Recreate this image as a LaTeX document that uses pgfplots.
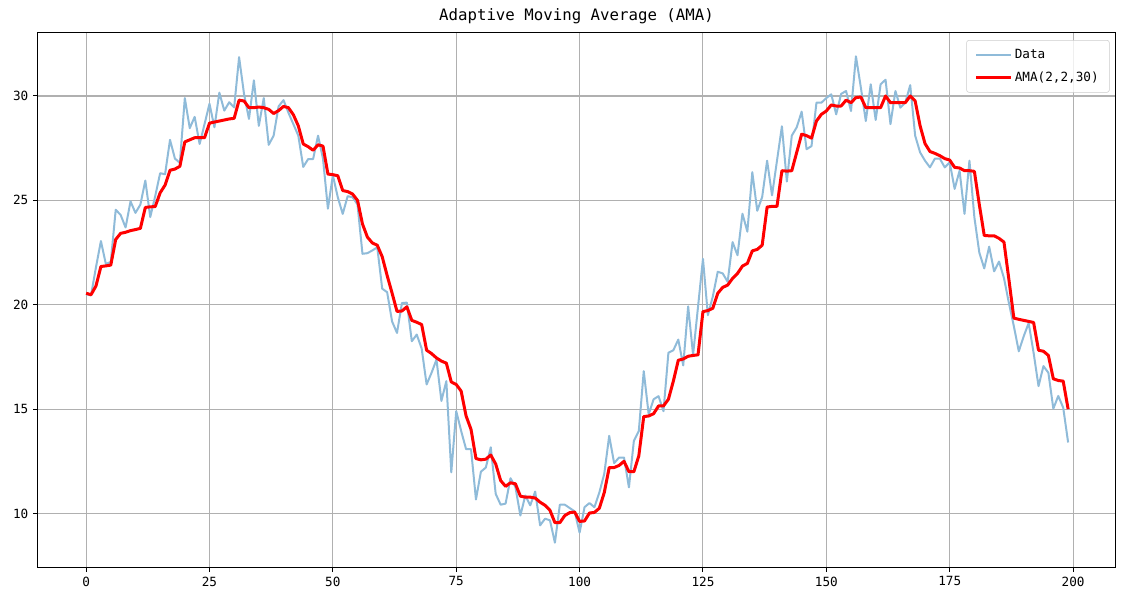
\documentclass[border=0pt]{standalone}
\usepackage{fontspec}
\setmainfont{DejaVu Sans Mono}
\usepackage{pgfplots}
\usepackage{pgfplotstable}
\pgfplotsset{compat=1.18}
\definecolor{databl}{HTML}{8FBBD9}
\definecolor{amared}{HTML}{FF0000}
\pgfplotstableread{
x y
0 20.50
1 20.45
2 21.80
3 23.05
4 21.95
5 22.05
6 24.55
7 24.30
8 23.70
9 24.95
10 24.40
11 24.80
12 25.95
13 24.20
14 25.20
15 26.30
16 26.25
17 27.90
18 27.00
19 26.80
20 29.90
21 28.46
22 29.00
23 27.70
24 28.65
25 29.63
26 28.50
27 30.16
28 29.30
29 29.70
30 29.45
31 31.86
32 30.10
33 28.90
34 30.75
35 28.57
36 29.90
37 27.66
38 28.10
39 29.50
40 29.80
41 29.20
42 28.65
43 28.10
44 26.60
45 26.98
46 26.98
47 28.10
48 27.00
49 24.60
50 26.20
51 25.15
52 24.35
53 25.20
54 25.15
55 24.80
56 22.44
57 22.47
58 22.60
59 22.75
60 20.77
61 20.60
62 19.20
63 18.65
64 20.08
65 20.10
66 18.25
67 18.57
68 17.90
69 16.18
70 16.74
71 17.37
72 15.39
73 16.34
74 11.97
75 14.90
76 13.95
77 13.08
78 13.08
79 10.67
80 12.00
81 12.20
82 13.17
83 10.94
84 10.42
85 10.47
86 11.69
87 11.26
88 9.90
89 10.86
90 10.39
91 11.05
92 9.43
93 9.75
94 9.67
95 8.60
96 10.42
97 10.42
98 10.26
99 10.10
100 9.08
101 10.30
102 10.50
103 10.30
104 11.00
105 11.90
106 13.72
107 12.41
108 12.68
109 12.68
110 11.25
111 13.48
112 13.95
113 16.82
114 14.75
115 15.47
116 15.62
117 14.90
118 17.70
119 17.82
120 18.33
121 17.09
122 19.92
123 17.60
124 19.90
125 22.20
126 19.50
127 20.40
128 21.58
129 21.50
130 21.10
131 23.00
132 22.37
133 24.36
134 23.50
135 26.35
136 24.50
137 25.16
138 26.90
139 25.24
140 26.90
141 28.55
142 25.90
143 28.10
144 28.50
145 29.25
146 27.45
147 27.60
148 29.68
149 29.68
150 29.90
151 30.08
152 29.12
153 30.10
154 30.24
155 29.28
156 31.90
157 30.40
158 28.80
159 30.56
160 28.85
161 30.56
162 30.78
163 28.65
164 30.24
165 29.44
166 29.68
167 30.52
168 28.10
169 27.30
170 26.90
171 26.58
172 27.00
173 27.00
174 26.58
175 26.82
176 25.55
177 26.42
178 24.35
179 26.90
180 24.19
181 22.50
182 21.74
183 22.78
184 21.60
185 22.07
186 21.27
187 20.08
188 18.97
189 17.77
190 18.49
191 19.12
192 17.70
193 16.10
194 17.06
195 16.74
196 15.02
197 15.63
198 15.07
199 13.40
}\datatable
\pgfplotstableread{
x y
0 20.55
1 20.48
2 20.90
3 21.83
4 21.86
5 21.90
6 23.13
7 23.42
8 23.47
9 23.55
10 23.60
11 23.66
12 24.66
13 24.69
14 24.70
15 25.36
16 25.73
17 26.44
18 26.50
19 26.63
20 27.80
21 27.90
22 28.00
23 28.00
24 28.00
25 28.70
26 28.75
27 28.80
28 28.85
29 28.90
30 28.93
31 29.80
32 29.76
33 29.44
34 29.44
35 29.47
36 29.44
37 29.36
38 29.16
39 29.30
40 29.50
41 29.44
42 29.10
43 28.57
44 27.70
45 27.57
46 27.40
47 27.66
48 27.60
49 26.26
50 26.23
51 26.18
52 25.47
53 25.42
54 25.30
55 25.00
56 23.87
57 23.24
58 22.96
59 22.85
60 22.30
61 21.40
62 20.56
63 19.68
64 19.70
65 19.90
66 19.25
67 19.16
68 19.05
69 17.82
70 17.66
71 17.45
72 17.30
73 17.20
74 16.30
75 16.18
76 15.86
77 14.67
78 14.03
79 12.63
80 12.57
81 12.60
82 12.80
83 12.37
84 11.58
85 11.30
86 11.47
87 11.42
88 10.83
89 10.78
90 10.78
91 10.74
92 10.54
93 10.39
94 10.15
95 9.56
96 9.56
97 9.90
98 10.04
99 10.07
100 9.62
101 9.64
102 10.02
103 10.05
104 10.25
105 11.00
106 12.20
107 12.20
108 12.30
109 12.50
110 12.00
111 12.00
112 12.76
113 14.64
114 14.67
115 14.78
116 15.15
117 15.15
118 15.47
119 16.34
120 17.34
121 17.40
122 17.53
123 17.57
124 17.60
125 19.67
126 19.72
127 19.83
128 20.55
129 20.83
130 20.94
131 21.26
132 21.50
133 21.85
134 21.98
135 22.58
136 22.65
137 22.85
138 24.68
139 24.71
140 24.71
141 26.42
142 26.40
143 26.42
144 27.30
145 28.17
146 28.10
147 27.98
148 28.80
149 29.12
150 29.28
151 29.57
152 29.52
153 29.52
154 29.80
155 29.68
156 29.92
157 29.95
158 29.44
159 29.44
160 29.44
161 29.44
162 30.00
163 29.68
164 29.68
165 29.68
166 29.68
167 30.00
168 29.76
169 28.57
170 27.72
171 27.34
172 27.25
173 27.14
174 27.00
175 26.93
176 26.58
177 26.55
178 26.42
179 26.42
180 26.39
181 24.80
182 23.32
183 23.30
184 23.30
185 23.18
186 23.00
187 21.20
188 19.36
189 19.30
190 19.25
191 19.20
192 19.15
193 17.82
194 17.77
195 17.57
196 16.45
197 16.37
198 16.34
199 15.00
}\amatable
\begin{document}
\begin{tikzpicture}[x=1pt,y=1pt]
\useasboundingbox (-28.5,-25.5) rectangle (827.25,425.25);
\begin{axis}[
  at={(0,0)}, anchor=south west, scale only axis,
  width=807.75pt, height=401.25pt,
  xmin=-9.75, xmax=208.5, ymin=7.435, ymax=33.065,
  xtick={0,25,...,200}, ytick={10,15,20,25,30},
  grid=major, grid style={color=black!31, line width=0.8pt},
  axis line style={line width=0.75pt, black},
  tick align=outside, tick pos=left, major tick length=3.75pt,
  tick style={black, line width=0.75pt},
  ticklabel style={font=\fontsize{9.5}{11}\selectfont},
  /pgf/number format/assume math mode=true,
  title={Adaptive Moving Average (AMA)},
  title style={at={(0.5,1)}, anchor=base, yshift=3pt, font=\fontsize{11.8}{14}\selectfont},
  legend style={at={(1,1)}, anchor=north east, xshift=-4pt, yshift=-6pt,
    draw=black!20, rounded corners=2pt, fill=white, fill opacity=0.8, text opacity=1,
    font=\fontsize{9.5}{11}\selectfont, row sep=4pt, inner xsep=6pt, inner ysep=5pt},
  legend cell align=left,
  legend image code/.code={\draw[#1] (0pt,0pt) -- (26pt,0pt);},
]
\addplot[databl, line width=1.5pt, line join=round] table[x=x,y=y] {\datatable};
\addlegendentry{Data}
\addplot[amared, line width=2.25pt, line join=round] table[x=x,y=y] {\amatable};
\addlegendentry{AMA(2,2,30)}
\end{axis}
\end{tikzpicture}
\end{document}
